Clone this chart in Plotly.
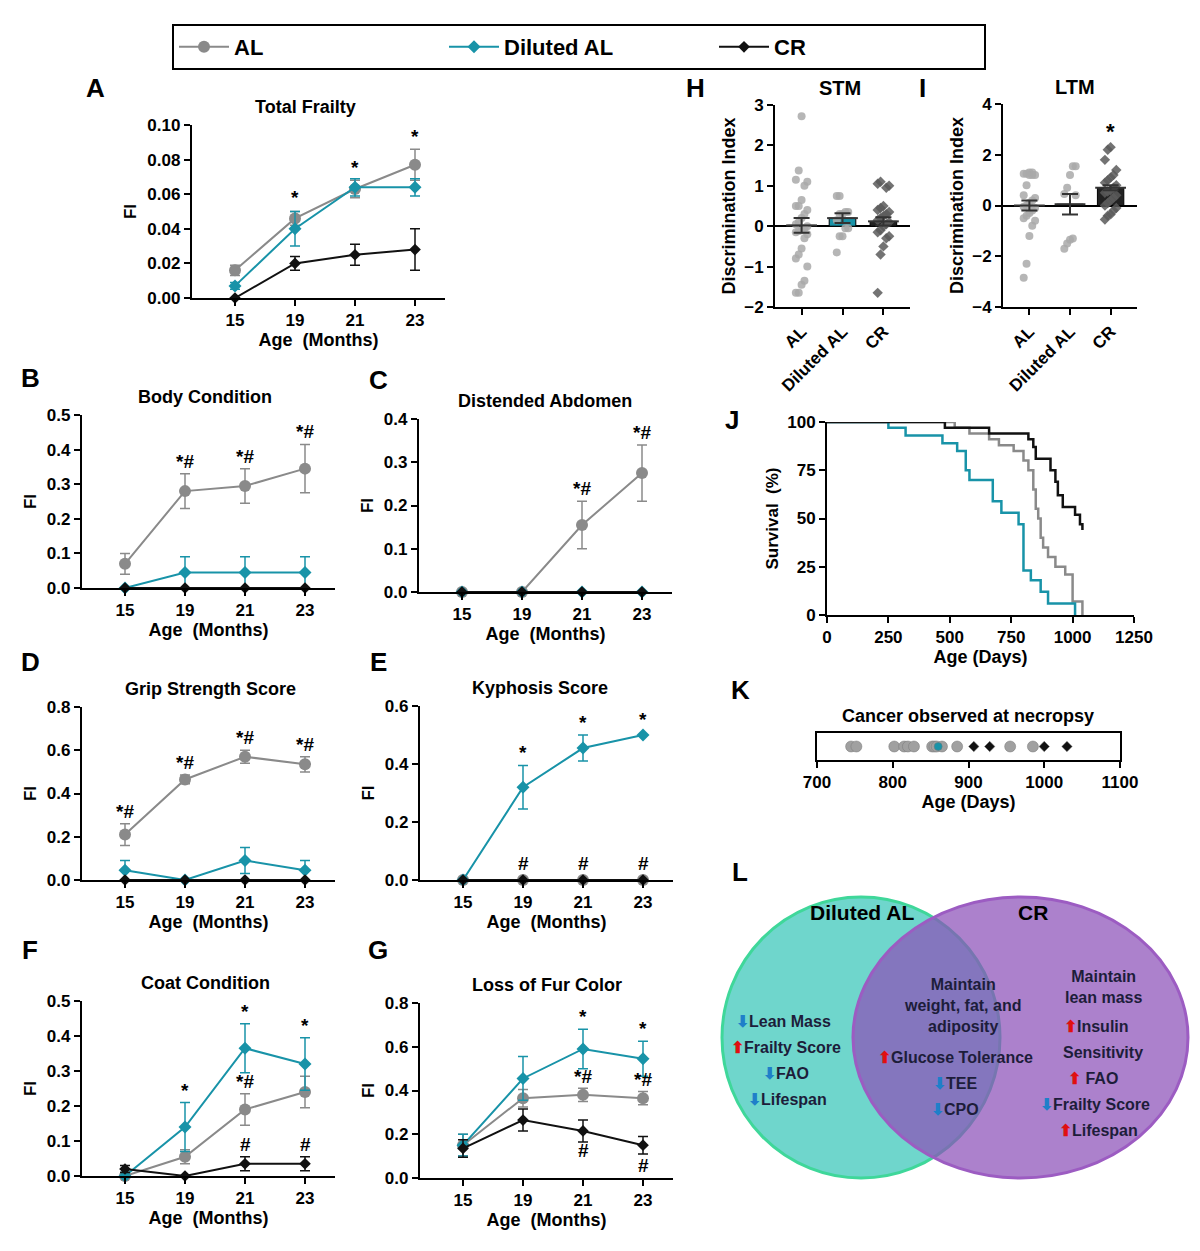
import plotly.graph_objects as go

W, H = 1200, 1251
OFF = 8  # page margin of the browser
GRAY = "#8a8a8a"
TEAL = "#1893a8"
BLACK = "#111111"
FONT = "Liberation Sans"

months = ["15", "19", "21", "23"]

# line panels: (mean, err) per group
total_al = [0.016, 0.046, 0.063, 0.077]
total_al_err = [0.003, 0.004, 0.005, 0.009]
total_dal = [0.007, 0.040, 0.064, 0.064]
total_dal_err = [0.002, 0.010, 0.005, 0.005]
total_cr = [0.0, 0.020, 0.025, 0.028]
total_cr_err = [0.0, 0.004, 0.006, 0.012]

body_al = [0.07, 0.28, 0.295, 0.345]
body_al_err = [0.03, 0.05, 0.05, 0.07]
body_dal = [0.0, 0.045, 0.045, 0.045]
body_dal_err = [0.0, 0.045, 0.045, 0.045]
body_cr = [0, 0, 0, 0]

dist_al = [0, 0, 0.155, 0.275]
dist_al_err = [0, 0, 0.055, 0.065]
dist_dal = [0, 0, 0, 0]
dist_cr = [0, 0, 0, 0]

grip_al = [0.21, 0.465, 0.57, 0.535]
grip_al_err = [0.05, 0.02, 0.03, 0.035]
grip_dal = [0.045, 0.0, 0.09, 0.045]
grip_dal_err = [0.045, 0.0, 0.06, 0.045]
grip_cr = [0, 0, 0, 0]

kyph_al = [0, 0, 0, 0]
kyph_dal = [0.0, 0.32, 0.455, 0.5]
kyph_dal_err = [0.0, 0.075, 0.045, 0.0]
kyph_cr = [0, 0, 0, 0]

coat_al = [0.0, 0.055, 0.19, 0.24]
coat_al_err = [0.01, 0.02, 0.045, 0.045]
coat_dal = [0.0, 0.14, 0.365, 0.32]
coat_dal_err = [0.01, 0.07, 0.07, 0.075]
coat_cr = [0.02, 0.0, 0.035, 0.035]
coat_cr_err = [0.01, 0.0, 0.02, 0.02]

fur_al = [0.15, 0.365, 0.38, 0.365]
fur_al_err = [0.05, 0.04, 0.03, 0.03]
fur_dal = [0.15, 0.455, 0.59, 0.545]
fur_dal_err = [0.05, 0.10, 0.09, 0.08]
fur_cr = [0.135, 0.265, 0.215, 0.15]
fur_cr_err = [0.04, 0.05, 0.05, 0.04]

# novel object recognition
groups = ["AL", "Diluted AL", "CR"]
stm_al = [2.72, 1.38, 1.15, 1.1, 1.0, 0.65, 0.5, 0.5, 0.4, 0.3, 0.2, 0.1, 0.05, 0.0, -0.05,
          -0.1, -0.12, -0.15, -0.2, -0.3, -0.55, -0.7, -0.8, -1.0, -1.35, -1.45, -1.65, -1.65]
stm_dal = [0.75, 0.75, 0.35, 0.35, 0.3, 0.3, 0.15, -0.05, -0.05, -0.25, -0.25, -0.65]
stm_cr = [1.1, 1.05, 1.0, 0.95, 0.5, 0.45, 0.4, 0.35, 0.3, 0.25, 0.2, 0.15, 0.1, 0.05, 0.0,
          -0.1, -0.15, -0.25, -0.3, -0.5, -0.7, -1.65]
stm_mean = [0.02, 0.2, 0.12]
stm_err = [0.18, 0.12, 0.1]
ltm_al = [1.3, 1.25, 1.2, 1.2, 1.2, 1.3, 1.25, 0.8, 0.4, 0.3, 0.2, 0.1, 0.0, -0.05, -0.1, -0.2,
          -0.3, -0.4, -0.5, -0.6, -0.8, -1.2, -2.3, -2.85]
ltm_dal = [1.55, 1.55, 1.2, 0.7, 0.45, 0.4, -1.3, -1.35, -1.5, -1.7]
ltm_cr = [2.3, 2.2, 1.8, 1.4, 1.2, 1.1, 1.0, 0.9, 0.8, 0.7, 0.6, 0.55, 0.5, 0.4, 0.3, 0.2, 0.1,
          0.0, -0.1, -0.2, -0.35, -0.4, -0.55]
ltm_mean = [0.0, 0.05, 0.7]
ltm_err = [0.2, 0.4, 0.1]

# survival (days, %)
surv_dal_t = [0, 250, 320, 470, 530, 565, 580, 675, 710, 780, 800, 830, 870, 900, 1000, 1010]
surv_dal_s = [100, 97, 93, 89, 85, 75, 70, 59, 53, 47, 23, 18, 12, 6, 6, 0]
surv_al_t = [0, 520, 580, 660, 700, 760, 800, 820, 840, 850, 860, 870, 880, 900, 930, 970, 1000, 1040]
surv_al_s = [100, 97, 94, 91, 88, 85, 80, 75, 65, 55, 50, 40, 35, 30, 25, 21, 7, 0]
surv_cr_t = [0, 480, 660, 820, 840, 850, 910, 930, 940, 960, 1010, 1030, 1040]
surv_cr_s = [100, 97, 94, 91, 87, 81, 75, 69, 62, 56, 52, 47, 44]

cancer_al = [745, 752, 802, 815, 820, 828, 852, 855, 858, 865, 885, 955, 985]
cancer_dal = [860]
cancer_cr = [907, 928, 1000, 1030]

fig = go.Figure()
layout = {}
ann = []


def px(x):
    return (x - OFF) / W


def py(y):
    return 1 - (y - OFF) / H


def dom(x0, x1, ytop, ybot):
    return [px(x0), px(x1)], [py(ybot), py(ytop)]


def axis_style(**kw):
    d = dict(showline=True, linecolor="black", linewidth=2, ticks="outside", tickwidth=2,
             ticklen=6, tickcolor="black", showgrid=False, zeroline=False, automargin=False,
             tickfont=dict(size=17, color="black", weight="bold"))
    d.update(kw)
    return d


def text(x, y, s, size=18, ref=("paper", "paper"), **kw):
    kw.setdefault("xanchor", "center")
    kw.setdefault("yanchor", "middle")
    ann.append(dict(x=x if ref[0] != "paper" else px(x), y=y if ref[1] != "paper" else py(y),
                    xref=ref[0], yref=ref[1], text=s, showarrow=False,
                    font=dict(size=size, color=kw.pop("color", "black"), weight="bold"), **kw))


def line_panel(n, tick0, ytop, ybot, ymax, dtick, fmt, series, title, letter, marks, legend=False):
    sp = 60
    xd, yd = dom(tick0 - 0.72 * sp, tick0 + 3.5 * sp, ytop, ybot)
    layout[f"xaxis{n}"] = axis_style(domain=xd, anchor=f"y{n}", range=[-0.72, 3.5],
                                     tickvals=[0, 1, 2, 3], ticktext=months,
                                     title=dict(text="Age  (Months)", font=dict(size=18, weight="bold"), standoff=4))
    layout[f"yaxis{n}"] = axis_style(domain=yd, anchor=f"x{n}", range=[0, ymax], dtick=dtick,
                                     tickformat=fmt, title=dict(text="FI", font=dict(size=17, weight="bold"), standoff=6))
    style = {"AL": (GRAY, "circle", 12), "Diluted AL": (TEAL, "diamond", 10), "CR": (BLACK, "diamond", 9)}
    for name, y, e in series:
        c, sym, sz = style[name]
        fig.add_trace(go.Scatter(
            x=[0, 1, 2, 3], y=y, xaxis=f"x{n}", yaxis=f"y{n}", mode="lines+markers", name=name,
            showlegend=legend, cliponaxis=False,
            line=dict(color=c, width=2), marker=dict(color=c, symbol=sym, size=sz),
            error_y=dict(array=e or [0] * 4, color=c, thickness=1.5, width=5, visible=True)))
    text(title[1], ytop - 18, title[0], 18)
    text(letter[1], letter[2], letter[0], 26)
    for xi, yv, s in marks:
        text(xi, yv, s, 19, ref=(f"x{n}", f"y{n}"), yanchor="bottom")


line_panel(1, 235, 125, 298, 0.1, 0.02, ".2f",
           [("AL", total_al, total_al_err), ("Diluted AL", total_dal, total_dal_err), ("CR", total_cr, total_cr_err)],
           ("Total Frailty", 305), ("A", 95, 88), [(1, 0.051, "*"), (2, 0.068, "*"), (3, 0.086, "*")], legend=True)
line_panel(2, 125, 415, 588, 0.5, 0.1, ".1f",
           [("AL", body_al, body_al_err), ("Diluted AL", body_dal, body_dal_err), ("CR", body_cr, None)],
           ("Body Condition", 205), ("B", 30, 378), [(1, 0.33, "*#"), (2, 0.345, "*#"), (3, 0.415, "*#")])
line_panel(3, 462, 419, 592, 0.4, 0.1, ".1f",
           [("AL", dist_al, dist_al_err), ("Diluted AL", dist_dal, None), ("CR", dist_cr, None)],
           ("Distended Abdomen", 545), ("C", 378, 380), [(2, 0.21, "*#"), (3, 0.34, "*#")])
line_panel(4, 125, 707, 880, 0.8, 0.2, ".1f",
           [("AL", grip_al, grip_al_err), ("Diluted AL", grip_dal, grip_dal_err), ("CR", grip_cr, None)],
           ("Grip Strength Score", 210), ("D", 30, 662),
           [(0, 0.26, "*#"), (1, 0.485, "*#"), (2, 0.6, "*#"), (3, 0.57, "*#")])
line_panel(5, 463, 706, 880, 0.6, 0.2, ".1f",
           [("AL", kyph_al, None), ("Diluted AL", kyph_dal, kyph_dal_err), ("CR", kyph_cr, None)],
           ("Kyphosis Score", 540), ("E", 378, 662),
           [(1, 0.395, "*"), (2, 0.5, "*"), (3, 0.51, "*"), (1, 0.015, "#"), (2, 0.015, "#"), (3, 0.015, "#")])
line_panel(6, 125, 1001, 1176, 0.5, 0.1, ".1f",
           [("AL", coat_al, coat_al_err), ("Diluted AL", coat_dal, coat_dal_err), ("CR", coat_cr, coat_cr_err)],
           ("Coat Condition", 205), ("F", 30, 950),
           [(1, 0.21, "*"), (2, 0.435, "*"), (3, 0.395, "*"), (2, 0.235, "*#"),
            (1, -0.01, "#"), (2, 0.055, "#"), (3, 0.055, "#")])
line_panel(7, 463, 1003, 1178, 0.8, 0.2, ".1f",
           [("AL", fur_al, fur_al_err), ("Diluted AL", fur_dal, fur_dal_err), ("CR", fur_cr, fur_cr_err)],
           ("Loss of Fur Color", 547), ("G", 378, 950),
           [(2, 0.68, "*"), (3, 0.625, "*"), (2, 0.405, "*#"), (3, 0.395, "*#"),
            (2, 0.07, "#"), (3, 0.0, "#")])


def jitter(vals):
    order = sorted(range(len(vals)), key=lambda i: vals[i])
    off = [0.0] * len(vals)
    for k, i in enumerate(order):
        off[i] = ((k % 5) - 2) * 0.07
    return off


def dot_panel(n, x0, x1, ytop, ybot, yr, dtick, data, means, errs, title, letter, star=None):
    xd, yd = dom(x0, x1, ytop, ybot)
    layout[f"xaxis{n}"] = axis_style(domain=xd, anchor=f"y{n}", range=[-0.65, 2.65],
                                     tickvals=[0, 1, 2], ticktext=groups, tickangle=-45)
    layout[f"yaxis{n}"] = axis_style(domain=yd, anchor=f"x{n}", range=yr, dtick=dtick, zeroline=True,
                                     zerolinecolor="black", zerolinewidth=2,
                                     title=dict(text="Discrimination Index", font=dict(size=18, weight="bold"), standoff=4))
    fig.add_trace(go.Bar(x=[0, 1, 2], y=means, width=0.65, xaxis=f"x{n}", yaxis=f"y{n}", showlegend=False,
                         marker=dict(color=["rgba(0,0,0,0)", TEAL, "#222222"], line=dict(color="black", width=1))))
    cols = ["#a9a9a9", "#a9a9a9", "#5a5a5a"]
    syms = ["circle", "circle", "diamond"]
    for g, vals in enumerate(data):
        fig.add_trace(go.Scatter(x=[g + o for o in jitter(vals)], y=vals, mode="markers", xaxis=f"x{n}",
                                 yaxis=f"y{n}", showlegend=False,
                                 marker=dict(color=cols[g], symbol=syms[g], size=8, opacity=0.85)))
    fig.add_trace(go.Scatter(x=[0, 1, 2], y=means, mode="markers", xaxis=f"x{n}", yaxis=f"y{n}", showlegend=False,
                             marker=dict(symbol="line-ew", size=22, line=dict(width=2, color="#333")),
                             error_y=dict(array=errs, color="#333", thickness=2, width=8)))
    text(title[1], ytop - 17, title[0], 20)
    text(letter[1], letter[2], letter[0], 26)
    if star:
        text(2, star, "*", 22, ref=(f"x{n}", f"y{n}"), yanchor="bottom")


dot_panel(8, 775, 910, 105, 307, [-2, 3], 1, [stm_al, stm_dal, stm_cr], stm_mean, stm_err, ("STM", 840),
          ("H", 695, 88))
dot_panel(9, 1003, 1137, 104, 307, [-4, 4], 2, [ltm_al, ltm_dal, ltm_cr], ltm_mean, ltm_err, ("LTM", 1075),
          ("I", 922, 88), star=2.35)

# survival
xd, yd = dom(827, 1134, 422, 615)
layout["xaxis10"] = axis_style(domain=xd, anchor="y10", range=[0, 1250], dtick=250,
                               title=dict(text="Age (Days)", font=dict(size=18, weight="bold"), standoff=2))
layout["yaxis10"] = axis_style(domain=yd, anchor="x10", range=[0, 100], dtick=25,
                               title=dict(text="Survival  (%)", font=dict(size=17, weight="bold"), standoff=4))
for t, s, c in [(surv_al_t, surv_al_s, GRAY), (surv_dal_t, surv_dal_s, TEAL), (surv_cr_t, surv_cr_s, BLACK)]:
    fig.add_trace(go.Scatter(x=t, y=s, mode="lines", line=dict(color=c, width=2.5, shape="hv"),
                             xaxis="x10", yaxis="y10", showlegend=False, cliponaxis=False))
text(732, 420, "J", 26)

# cancer
xd, yd = dom(817, 1120, 733, 760)
layout["xaxis11"] = axis_style(domain=xd, anchor="y11", range=[700, 1100], dtick=100, mirror=True, linewidth=1.5,
                               title=dict(text="Age (Days)", font=dict(size=18, weight="bold"), standoff=2))
layout["yaxis11"] = axis_style(domain=yd, anchor="x11", range=[-1, 1], mirror=True, ticks="",
                               showticklabels=False, linewidth=1.5)
for vals, c, sym, sz in [(cancer_al, "#a0a0a0", "circle", 11), (cancer_dal, TEAL, "circle", 8),
                         (cancer_cr, BLACK, "diamond", 8)]:
    fig.add_trace(go.Scatter(x=vals, y=[0] * len(vals), mode="markers", xaxis="x11", yaxis="y11",
                             showlegend=False, marker=dict(color=c, symbol=sym, size=sz,
                                                           line=dict(color="#777", width=0.5))))
text(740, 690, "K", 26)
text(968, 716, "Cancer observed at necropsy", 18)

# venn
shapes = [
    dict(type="circle", xref="paper", yref="paper", x0=px(722), x1=px(1000), y0=py(1178), y1=py(897),
         fillcolor="#6fd6cc", line=dict(color="#3fd79a", width=3), layer="below"),
    dict(type="circle", xref="paper", yref="paper", x0=px(853), x1=px(1188), y0=py(1178), y1=py(897),
         fillcolor="rgba(140,80,185,0.72)", line=dict(color="#9c5cc2", width=3), layer="below"),
]
UP = "<span style='color:#e01010'>⬆</span>"
DN = "<span style='color:#1f7fc9'>⬇</span>"
text(740, 872, "L", 26)
text(862, 912, "Diluted AL", 21)
text(1033, 912, "CR", 21)
vt = 16
tc = "#1d1d3a"
text(962, 1005, "Maintain<br>weight, fat, and<br>adiposity", vt, color=tc)
text(955, 1057, UP + "Glucose Tolerance", vt, color=tc)
text(955, 1083, DN + "TEE", vt, color=tc)
text(955, 1109, DN + "CPO", vt, color=tc)
text(783, 1021, DN + "Lean Mass", vt, color=tc)
text(786, 1047, UP + "Frailty Score", vt, color=tc)
text(786, 1073, DN + "FAO", vt, color=tc)
text(787, 1099, DN + "Lifespan", vt, color=tc)
text(1103, 987, "Maintain<br>lean mass", vt, color=tc)
text(1096, 1026, UP + "Insulin", vt, color=tc)
text(1103, 1052, "Sensitivity", vt, color=tc)
text(1093, 1078, UP + " FAO", vt, color=tc)
text(1095, 1104, DN + "Frailty Score", vt, color=tc)
text(1098, 1130, UP + "Lifespan", vt, color=tc)

fig.update_layout(
    width=W, height=H, margin=dict(l=0, r=0, t=0, b=0, autoexpand=False), plot_bgcolor="white",
    paper_bgcolor="white",
    font=dict(family=FONT, color="black", weight="bold"), annotations=ann, shapes=shapes,
    legend=dict(orientation="h", x=px(172), y=py(24), xanchor="left", yanchor="top",
                bordercolor="black", borderwidth=2, entrywidth=205, font=dict(size=22, weight="bold"),
                itemwidth=50),
    **layout)
fig.write_html("out.html")
